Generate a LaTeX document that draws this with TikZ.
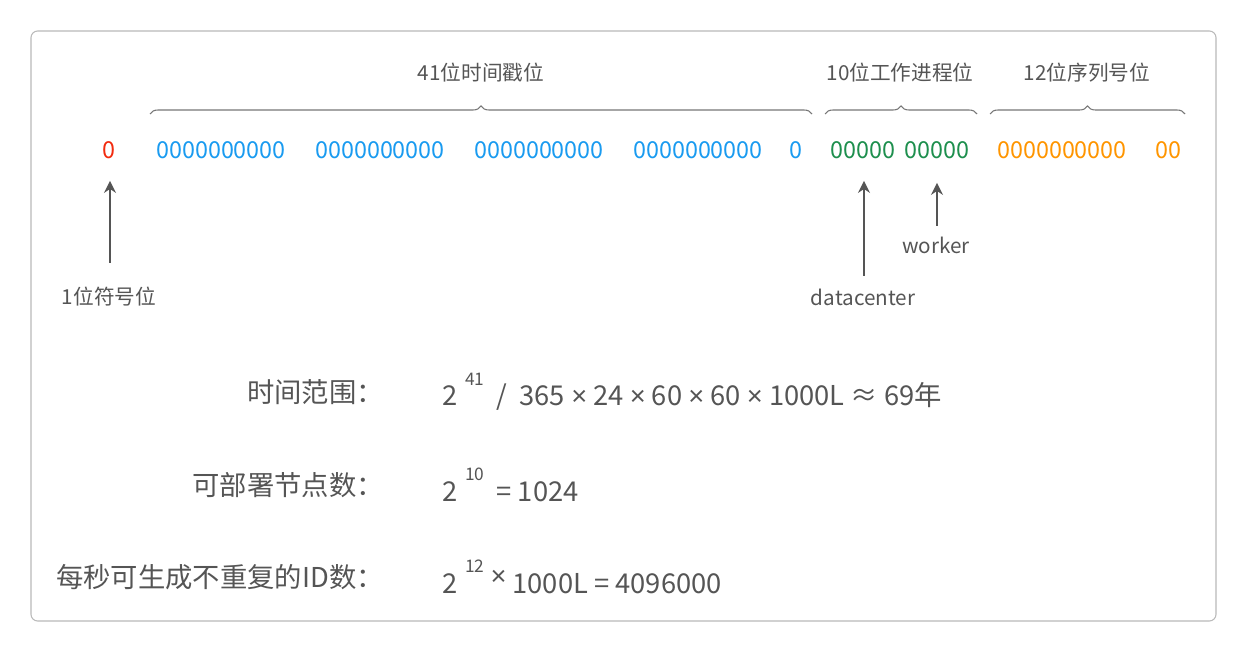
\documentclass[tikz,border=0pt]{standalone}
\usepackage{fontspec}
\setmainfont{Noto Sans CJK SC}
\newfontfamily\latf{Liberation Sans}
\usetikzlibrary{decorations.pathreplacing,arrows.meta,calc}
\definecolor{txt}{HTML}{555555}
\definecolor{bl}{HTML}{1A9BF0}
\definecolor{gr}{HTML}{1E8F4E}
\definecolor{og}{HTML}{FF9500}
\definecolor{rd}{HTML}{F22B0F}
\begin{document}
\begin{tikzpicture}[x=0.75pt,y=-0.75pt,
  bits/.style={font=\fontsize{17.5}{20}\selectfont,inner sep=0pt},
  lab/.style={font=\fontsize{15.5}{18}\selectfont,text=txt,inner sep=0pt},
  big/.style={font=\fontsize{20.5}{24}\selectfont,text=txt,inner sep=0pt},
  brc/.style={draw=txt!80,line width=0.8pt,decorate,decoration={brace,amplitude=6pt}},
  arr/.style={draw=txt,line width=2pt,-{Stealth[length=9pt,width=9pt]}}]
\useasboundingbox (0,0) rectangle (1247,652);
\draw[draw=gray!55,rounded corners=5pt,line width=0.8pt] (31,31) rectangle (1216,621);
% bits
\node[bits,text=rd] (s) at (109,150) {0};
\node[bits,text=bl] (t1) at (221,150) {0000000000};
\node[bits,text=bl] (t2) at (380,150) {0000000000};
\node[bits,text=bl] (t3) at (539,150) {0000000000};
\node[bits,text=bl] (t4) at (698,150) {0000000000};
\node[bits,text=bl] (t5) at (796,150) {0};
\node[bits,text=gr] (d) at (863,150) {00000};
\node[bits,text=gr] (w) at (937,150) {00000};
\node[bits,text=og] (q1) at (1062,150) {0000000000};
\node[bits,text=og] (q2) at (1168,150) {00};
% braces
\coordinate (b1a) at (150,114); \coordinate (b1b) at (812,114);
\coordinate (b2a) at (825,114); \coordinate (b2b) at (977,114);
\coordinate (b3a) at (990,114); \coordinate (b3b) at (1185,114);
\draw[brc] (b1a) -- (b1b);
\draw[brc] (b2a) -- (b2b);
\draw[brc] (b3a) -- (b3b);
\node[lab] (l1) at (481,73) {41位时间戳位};
\node[lab] (l2) at (900,73) {10位工作进程位};
\node[lab] (l3) at (1087,73) {12位序列号位};
% arrows
\coordinate (a1) at (110,263);
\coordinate (a2) at (864,276);
\coordinate (a3) at (937,226);
\draw[arr] (a1) -- ($(s.south)+(1,22)$);
\draw[arr] (a2) -- ($(d.south)+(1,22)$);
\draw[arr] (a3) -- ($(w.south)+(0,24)$);
\node[lab] (l4) at (109,297) {1位符号位};
\node[lab] (l5) at (863,297) {datacenter};
\node[lab] (l6) at (936,245) {worker};
% formulas
\node[big,anchor=east] (f1) at (384,392) {时间范围：};
\node[big,anchor=west] (e1) at (442,392) {2\raisebox{0.75em}{\fontsize{13}{15}\selectfont\ \ 41}\ \ /\ \ 365 {\latf×} 24 {\latf×} 60 {\latf×} 60 {\latf×} 1000L ≈ 69年};
\node[big,anchor=east] (f2) at (384,485) {可部署节点数：};
\node[big,anchor=west] (e2) at (442,485) {2\raisebox{0.75em}{\fontsize{13}{15}\selectfont\ \ 10}\ \ = 1024};
\node[big,anchor=east] (f3) at (384,577) {每秒可生成不重复的ID数：};
\node[big,anchor=west] (e3) at (442,577) {2\raisebox{0.75em}{\fontsize{13}{15}\selectfont\ \ 12}\ \raisebox{0.3em}{\latf×}\ 1000L = 4096000};
\end{tikzpicture}
\end{document}
